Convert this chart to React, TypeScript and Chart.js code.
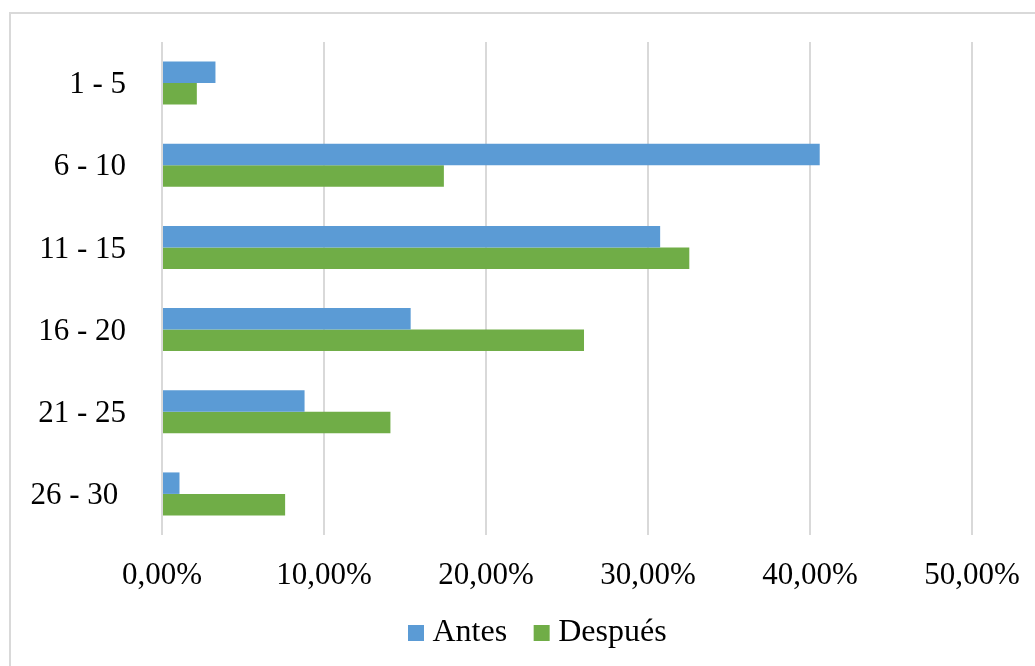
import React, { useEffect, useRef } from "react";
import { Chart, registerables } from "chart.js";

Chart.register(...registerables);

const categories = ["1 - 5", "6 - 10", "11 - 15", "16 - 20", "21 - 25", "26 - 30 "];
const antes = [3.3, 40.6, 30.75, 15.35, 8.8, 1.08];
const despues = [2.15, 17.4, 32.55, 26.05, 14.1, 7.6];
const seriesNames = ["Antes", "Después"];
const seriesColors = ["#5B9BD5", "#70AD47"];

const FONT = "'Liberation Serif', 'Times New Roman', serif";

const frame = {
  id: "frame",
  beforeDraw(chart: any) {
    const ctx = chart.ctx;
    ctx.save();
    ctx.fillStyle = "#ffffff";
    ctx.fillRect(0, 0, chart.width, chart.height);
    ctx.strokeStyle = "#d9d9d9";
    ctx.lineWidth = 2;
    ctx.strokeRect(10, 13, chart.width + 20, chart.height + 20);
    ctx.restore();
  },
};

const legendPlacer = {
  id: "legendPlacer",
  afterLayout(chart: any) {
    const lg = chart.legend;
    if (!lg || !lg.lineWidths) return;
    const pad = lg.options.labels.padding;
    const start = (lg.left + pad + lg.right - lg.lineWidths[0]) / 2;
    const dx = 415.5 - start;
    const dy = 583 - lg.top;
    lg.left += dx;
    lg.right += dx;
    lg.top += dy;
    lg.bottom += dy;
  },
};

export default function App() {
  const ref = useRef<HTMLCanvasElement | null>(null);
  useEffect(() => {
    document.body.style.margin = "0";
    const chart = new Chart(ref.current as HTMLCanvasElement, {
      type: "bar",
      data: {
        labels: categories,
        datasets: [
          { label: seriesNames[0], data: antes, backgroundColor: seriesColors[0] },
          { label: seriesNames[1], data: despues, backgroundColor: seriesColors[1] },
        ],
      },
      options: {
        indexAxis: "y",
        animation: false,
        responsive: false,
        devicePixelRatio: 1,
        categoryPercentage: 0.523,
        barPercentage: 1,
        layout: { padding: { top: 42, left: 0, right: 63, bottom: 0 } },
        scales: {
          x: {
            min: 0,
            max: 50,
            ticks: {
              stepSize: 10,
              color: "#000",
              padding: 22,
              font: { family: FONT, size: 31 },
              callback: (v: any) => Number(v).toFixed(2).replace(".", ",") + "%",
            },
            grid: { color: "#d9d9d9", lineWidth: 2, drawTicks: false },
            border: { display: false },
            afterFit: (s: any) => {
              s.height = 55;
              s.paddingLeft = 0;
              s.paddingRight = 0;
            },
          },
          y: {
            ticks: {
              color: "#000",
              padding: 36,
              labelOffset: 2,
              font: { family: FONT, size: 31 },
            },
            grid: { display: false, drawTicks: false },
            border: { display: false },
            afterFit: (s: any) => {
              s.width = 162;
              s.paddingTop = 0;
              s.paddingBottom = 0;
            },
          },
        },
        plugins: {
          legend: {
            position: "bottom",
            labels: {
              color: "#000",
              usePointStyle: true,
              pointStyle: "rect",
              boxWidth: 1,
              boxHeight: 16,
              padding: 34,
              font: { family: FONT, size: 32 },
            },
          },
          tooltip: { enabled: false },
        },
      },
      plugins: [frame, legendPlacer],
    });
    return () => chart.destroy();
  }, []);
  return (
    <div style={{ width: 1035, height: 666, overflow: "hidden" }}>
      <canvas ref={ref} width={1035} height={666} style={{ display: "block" }} />
    </div>
  );
}
